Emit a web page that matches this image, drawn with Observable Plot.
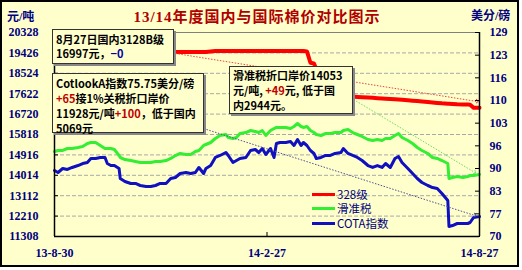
<!DOCTYPE html>
<html><head><meta charset="utf-8">
<script src="https://cdn.jsdelivr.net/npm/d3@7"></script>
<script src="https://cdn.jsdelivr.net/npm/@observablehq/plot@0.6"></script>
<style>
html,body{margin:0;padding:0;background:#fff;}
#wrap{position:relative;width:522px;height:270px;overflow:hidden;}
#bg{position:absolute;left:0;top:0;width:515px;height:263px;border:2px solid #000;background:#FFFFCC;}
#plot{position:absolute;left:0;top:0;}
.ov{position:absolute;white-space:nowrap;}
.title{left:0;width:514px;top:8px;text-align:center;font:bold 15px "Liberation Serif","Noto Sans CJK SC";color:#b00000;letter-spacing:1px;line-height:18px;}
.unit{font:bold 12px "Liberation Serif","Noto Sans CJK SC";color:#000080;line-height:14px;}
.box{position:absolute;box-sizing:border-box;background:#FFFFCC;border:1px solid #333;box-shadow:2px 2px 0 #888;}
.ln{position:absolute;left:3px;white-space:nowrap;font:bold 11px "Noto Sans CJK SC";color:#000;line-height:11px;transform-origin:0 50%;}
.red{color:#c00000;}
.blue{color:#0000a0;}
.lg{font:11.5px "Noto Sans CJK SC";color:#000080;line-height:12px;}
.sw{position:absolute;width:23px;height:3px;}
</style></head>
<body>
<div id="wrap">
  <div id="bg"></div>
  <div id="plot"></div>
</div>
<script>
// ---- data ----
const dates = ["2013-08-30","2013-09-02","2013-09-06","2013-09-10","2013-09-14","2013-09-19","2013-09-23","2013-09-27","2013-09-30","2013-10-04","2013-10-08","2013-10-12","2013-10-14","2013-10-17","2013-10-20","2013-10-24","2013-10-25","2013-10-29","2013-11-03","2013-11-07","2013-11-11","2013-11-16","2013-11-20","2013-11-24","2013-11-28","2013-12-03","2013-12-07","2013-12-11","2013-12-15","2013-12-20","2013-12-24","2013-12-28","2013-12-31","2014-01-04","2014-01-06","2014-01-10","2014-01-14","2014-01-18","2014-01-23","2014-01-25","2014-01-29","2014-02-01","2014-02-04","2014-02-09","2014-02-13","2014-02-17","2014-02-20","2014-02-23","2014-02-26","2014-03-02","2014-03-05","2014-03-07","2014-03-10","2014-03-15","2014-03-19","2014-03-22","2014-03-25","2014-03-28","2014-03-30","2014-04-02","2014-04-05","2014-04-08","2014-04-10","2014-04-14","2014-04-18","2014-04-22","2014-04-26","2014-05-01","2014-05-03","2014-05-07","2014-05-11","2014-05-15","2014-05-19","2014-05-24","2014-05-28","2014-06-01","2014-06-05","2014-06-08","2014-06-12","2014-06-16","2014-06-19","2014-06-22","2014-06-27","2014-07-01","2014-07-05","2014-07-09","2014-07-14","2014-07-18","2014-07-22","2014-07-26","2014-07-31","2014-08-01","2014-08-04","2014-08-08","2014-08-13","2014-08-17","2014-08-19","2014-08-22","2014-08-27"];

// 328级 domestic (元/吨, left axis)
const grade328 = [19470,19470,19470,19480,19480,19480,19480,19480,19480,19480,19480,19480,19480,19480,19480,19480,19480,19480,19480,19480,19480,19480,19480,19480,19480,19480,19480,19470,19470,19470,19470,19470,19470,19470,19470,19490,19510,19510,19510,19510,19510,19510,19510,19510,19510,19510,19510,19510,19510,19510,19510,19510,19510,19510,19510,19510,19510,19510,19510,19490,18990,18960,18700,18500,18300,18100,17900,17700,17600,17540,17498,17480,17465,17450,17440,17425,17410,17400,17390,17375,17365,17355,17335,17315,17295,17275,17255,17235,17215,17195,17180,17178,17170,17155,17145,17140,17136,16997,16997];

// 滑准税 landed price (元/吨, left axis)
const slidingTax = [15066,15111,15111,15199,15199,15243,15288,15420,15464,15464,15332,15199,15199,15199,15155,14889,14801,14712,14668,14624,14580,14580,14580,14624,14624,14668,14757,14889,14978,14934,14934,15066,15111,15332,15376,15464,15641,15774,15818,15685,15641,15685,15862,15906,15995,15951,15906,15995,15774,15995,16083,16128,16128,16128,16083,16172,16304,16172,16128,16172,15995,15906,15818,15774,15862,15862,15906,15906,15995,16039,15906,15818,15730,15597,15553,15597,15553,15641,15641,15774,15862,15685,15553,15420,15243,15111,14978,14801,14757,14668,14536,13873,13917,13961,13917,13961,14005,14005,14053];

// COTA index (美分/磅, right axis)
const cotA = [89.09,88.51,89.67,89.38,89.96,90.53,91.11,91.40,92.56,92.56,92.85,92.85,91.11,90.53,90.53,89.67,86.77,85.91,85.33,85.33,84.75,84.46,84.46,84.75,85.33,85.33,86.77,87.06,88.22,88.51,88.22,88.51,89.96,88.22,89.67,90.53,92.85,93.43,94.29,93.43,91.40,91.98,92.56,92.85,94.87,95.16,94.29,95.45,93.72,95.45,92.85,96.90,97.19,97.19,97.48,96.32,98.05,96.32,97.19,96.32,94.87,94.01,92.56,92.85,93.43,93.43,94.01,94.29,95.45,94.01,93.43,92.85,91.98,90.53,89.96,90.53,89.96,91.11,89.96,92.56,93.14,91.40,89.67,88.22,86.77,85.62,84.75,84.17,83.88,82.44,80.41,72.89,73.18,73.76,73.76,73.76,74.05,75.50,75.75];

// trend arrows (start/end date, value in 元/吨 left-axis units)
const redTrendDates = ["2013-12-11","2014-08-25"];
const redTrendValues = [19400,17277];
const greenTrendDates = ["2014-04-22","2014-08-23"];
const greenTrendValues = [17985,14138];
const blueTrendDates = ["2014-01-04","2014-08-23"];
const blueTrendValues = [16083,12237];

// axes
const leftTicks = [11308,12210,13112,14014,14916,15818,16720,17622,18524,19426,20328];
const rightTickLabels = ["70","77","83","90","96","103","110","116","123","129"];
const rightMin = 70, rightMax = 129;
const xTickDates = ["2013-08-30","2014-02-27","2014-08-27"];
const xTickLabels = ["13-8-30","14-2-27","14-8-27"];
const legendNames = ["328级","滑准税","COTA指数"];
const colors = ["#ff0000","#33ee33","#1010c0"];

// ---- build ----
const P = s => new Date(s + "T00:00:00Z");
const yMin = leftTicks[0], yMax = leftTicks[leftTicks.length-1];
const rightToLeft = v => yMin + (v - rightMin) / (rightMax - rightMin) * (yMax - yMin);
const rightPos = rightTickLabels.map((_, i) => yMin + i * (yMax - yMin) / (rightTickLabels.length - 1));
const rightMap = new Map(rightPos.map((p, i) => [p, rightTickLabels[i]]));
const xTicks = xTickDates.map(P);
const xMap = new Map(xTicks.map((d, i) => [+d, xTickLabels[i]]));

const redData = dates.map((d, i) => ({date: P(d), v: grade328[i]}));
const greenData = dates.map((d, i) => ({date: P(d), v: slidingTax[i]}));
const blueData = dates.map((d, i) => ({date: P(d), v: rightToLeft(cotA[i])}));
const trend = (ds, vs, c) => ({x1: P(ds[0]), y1: vs[0], x2: P(ds[1]), y2: vs[1], c});
const trends = [
  trend(redTrendDates, redTrendValues, "#ee4444"),
  trend(greenTrendDates, greenTrendValues, "#66dd66"),
  trend(blueTrendDates, blueTrendValues, "#505098")
];

const x0 = P(dates[0]), x1 = P(dates[dates.length-1]);
const labelFont = {fill: "#000080", fontWeight: "bold", fontSize: 12, fontFamily: "Liberation Serif"};

const chart = Plot.plot({
  width: 522, height: 270,
  marginLeft: 54, marginRight: 43, marginTop: 32, marginBottom: 34,
  style: {background: "transparent", overflow: "visible"},
  x: {type: "utc", domain: [x0, x1]},
  y: {domain: [yMin, yMax]},
  marks: [
    Plot.ruleY(leftTicks.slice(1, -1), {stroke: "#a8a8a8", strokeDasharray: "4,2"}),
    Plot.frame({stroke: "#808080"}),
    Plot.line(greenData, {x: "date", y: "v", stroke: colors[1], strokeWidth: 3}),
    Plot.line(blueData, {x: "date", y: "v", stroke: colors[2], strokeWidth: 3}),
    Plot.line(redData, {x: "date", y: "v", stroke: colors[0], strokeWidth: 4}),
    Plot.link(trends, {x1: "x1", y1: "y1", x2: "x2", y2: "y2", stroke: "c", strokeWidth: 1, strokeDasharray: "1.5,1.5", markerEnd: "arrow"}),
    Plot.ruleX([x0], {stroke: "#000", strokeWidth: 1.5}),
    Plot.ruleX([x1], {stroke: "#000", strokeWidth: 1.5}),
    Plot.ruleY([yMin], {stroke: "#000", strokeWidth: 1.5}),
    Plot.tickY(leftTicks, {y: d => d, insetRight: 421, stroke: "#000"}),
    Plot.tickY(rightPos, {y: d => d, insetLeft: 421, insetRight: -1, stroke: "#000"}),
    Plot.tickX(xTicks, {x: d => d, insetTop: 200, stroke: "#000"}),
    Plot.axisY(leftTicks, {anchor: "left", tickSize: 0, tickPadding: 16, tickFormat: d => String(d), ...labelFont}),
    Plot.axisY(rightPos, {anchor: "right", tickSize: 0, tickPadding: 10, tickFormat: d => rightMap.get(d), ...labelFont}),
    Plot.axisX(xTicks, {anchor: "bottom", tickSize: 0, tickPadding: 12, tickFormat: d => xMap.get(+d), ...labelFont})
  ]
});
document.getElementById("plot").appendChild(chart);

// ---- overlays: title, units, annotation boxes, legend ----
const wrap = document.getElementById("wrap");
function add(parent, html, cls, style) {
  const el = document.createElement("div");
  el.className = cls;
  el.setAttribute("style", style);
  el.innerHTML = html;
  parent.appendChild(el);
  return el;
}
add(wrap, "13/14年度国内与国际棉价对比图示", "ov title", "");
add(wrap, "元/吨", "ov unit", "left:7px;top:10px;");
add(wrap, "美分/磅", "ov unit", "left:471px;top:9px;");

function box(left, top, w, h, firstCenter, step, lines) {
  const b = add(wrap, "", "box", `left:${left}px;top:${top}px;width:${w}px;height:${h}px;`);
  lines.forEach((html, i) => {
    const el = add(b, html, "ln", `top:${firstCenter - top - 1 + i * step - 5.5}px;`);
    const maxW = w - 6;
    const ww = el.getBoundingClientRect().width;
    if (ww > maxW) el.style.transform = `scaleX(${maxW / ww})`;
  });
}
box(52, 29, 122, 35, 39, 14.5, [
  '8月27日国内3128B级',
  '16997元，<span class="blue">−0</span>'
]);
box(52, 73, 152, 60, 83, 15, [
  'CotlookA指数75.75美分/磅',
  '<span class="red">+65</span>接1%关税折口岸价',
  '11928元/吨<span class="red">+100</span>，低于国内',
  '5069元'
]);
box(229, 66, 124, 48, 75, 15, [
  '滑准税折口岸价14053',
  '元/吨, <span class="red">+49</span>元, 低于国',
  '内2944元。'
]);
legendNames.forEach((n, i) => {
  const yc = 194 + i * 14.5;
  add(wrap, "", "sw", `left:312px;top:${yc - 1.5}px;background:${colors[i]};`);
  add(wrap, n, "ov lg", `left:337px;top:${yc - 6.5}px;`);
});
</script>
</body></html>
